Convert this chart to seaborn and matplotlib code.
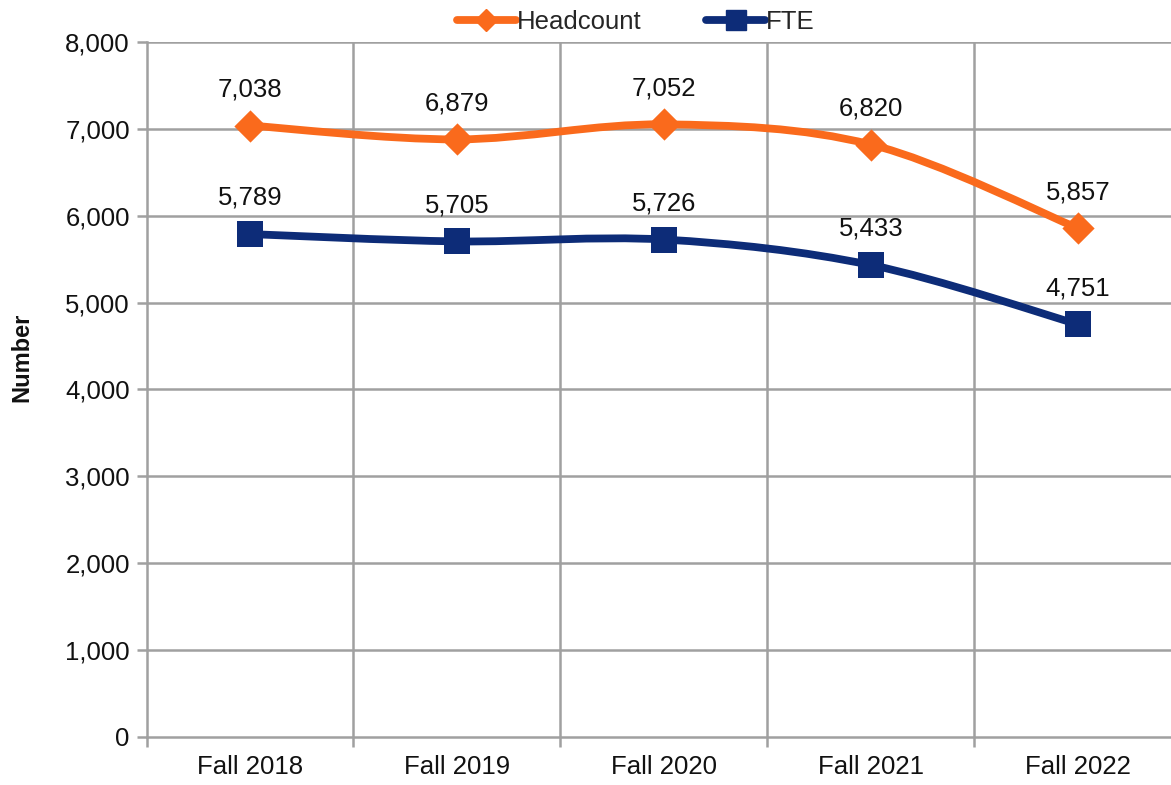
import numpy as np
import pandas as pd
import matplotlib
matplotlib.use("Agg")
import matplotlib.pyplot as plt
from matplotlib.path import Path
from matplotlib.patches import PathPatch
from matplotlib.lines import Line2D
from matplotlib.ticker import FuncFormatter, FixedLocator
import seaborn as sns

categories = ["Fall 2018", "Fall 2019", "Fall 2020", "Fall 2021", "Fall 2022"]
headcount = [7038, 6879, 7052, 6820, 5857]
fte = [5789, 5705, 5726, 5433, 4751]
series_names = ["Headcount", "FTE"]
colors = {"Headcount": "#FA6A1C", "FTE": "#0D2C78"}
markers = {"Headcount": "D", "FTE": "s"}
sizes = {"Headcount": 270, "FTE": 360}

df = pd.DataFrame({
    "Term": categories * 2,
    "x": list(range(len(categories))) * 2,
    "Series": ["Headcount"] * len(categories) + ["FTE"] * len(categories),
    "Value": headcount + fte,
})

sns.set_theme(style="white")
plt.rcParams["font.family"] = ["Liberation Sans", "DejaVu Sans"]

fig = plt.figure(figsize=(11.71, 7.85), dpi=100)
ax = fig.add_axes([146.5 / 1171, 1 - 737 / 785, 1 - 146.5 / 1171, (737 - 42) / 785])

grid_c = "#A0A0A0"


def smooth_path(xs, ys):
    pts = np.column_stack([xs, ys]).astype(float)
    n = len(pts)
    verts = [pts[0]]
    codes = [Path.MOVETO]
    for i in range(n - 1):
        p0 = pts[i - 1] if i > 0 else pts[i]
        p1 = pts[i]
        p2 = pts[i + 1]
        p3 = pts[i + 2] if i + 2 < n else pts[i + 1]
        c1 = p1 + (p2 - p0) / 6.0
        c2 = p2 - (p3 - p1) / 6.0
        verts += [c1, c2, p2]
        codes += [Path.CURVE4] * 3
    return Path(verts, codes)


for name in series_names:
    sub = df[df["Series"] == name]
    patch = PathPatch(smooth_path(sub["x"].values, sub["Value"].values),
                      fill=False, edgecolor=colors[name], lw=5.6,
                      capstyle="round", joinstyle="round", zorder=3)
    ax.add_patch(patch)
    sns.scatterplot(data=sub, x="x", y="Value", marker=markers[name],
                    s=sizes[name], color=colors[name], edgecolor=colors[name],
                    linewidth=0, ax=ax, zorder=4, legend=False)
    for xv, yv in zip(sub["x"], sub["Value"]):
        ax.annotate(f"{yv:,}", (xv, yv), xytext=(0, 21), textcoords="offset points",
                    ha="center", va="baseline", fontsize=18.5, color="#111111")

ax.set_xlim(-0.5, 4.45)
ax.set_ylim(0, 8000)
ax.set_yticks(np.arange(0, 8001, 1000))
ax.yaxis.set_major_formatter(FuncFormatter(lambda v, p: f"{int(v):,}"))
ax.set_xticks(range(len(categories)))
ax.set_xticklabels(categories)
ax.xaxis.set_minor_locator(FixedLocator([-0.5, 0.5, 1.5, 2.5, 3.5, 4.5]))
ax.tick_params(axis="x", which="major", length=0, labelsize=18.5, pad=13, colors="#111111")
ax.tick_params(axis="x", which="minor", length=7, width=1.8, color=grid_c, direction="out", bottom=True)
ax.tick_params(axis="y", which="major", length=7, width=1.8, color=grid_c, direction="out",
               labelsize=18.5, pad=5, left=True, labelcolor="#111111")

ax.grid(False)
for yv in range(1000, 8001, 1000):
    ax.axhline(yv, color=grid_c, lw=1.8, zorder=1)
for xv in [0.5, 1.5, 2.5, 3.5]:
    ax.axvline(xv, color=grid_c, lw=1.8, zorder=1)

for s in ["top", "right"]:
    ax.spines[s].set_visible(False)
for s in ["left", "bottom"]:
    ax.spines[s].set_color(grid_c)
    ax.spines[s].set_linewidth(1.8)

ax.set_xlabel("")
ax.set_ylabel("")
fig.text(22 / 1171, 1 - 357 / 785, "Number", rotation=90, fontsize=17, fontweight="bold",
         color="#111111", ha="center", va="center")

handles = [Line2D([0], [0], color=colors[n], lw=5.6, marker=markers[n],
                  markersize=(11 if n == "Headcount" else 14), solid_capstyle="round")
           for n in series_names]
fig.legend(handles, series_names, loc="upper center", bbox_to_anchor=(0.543, 1.017), ncol=2,
           frameon=False, fontsize=18.5, handlelength=2.3, handletextpad=0.05,
           columnspacing=2.5)

fig.savefig("out.png", dpi=100)
